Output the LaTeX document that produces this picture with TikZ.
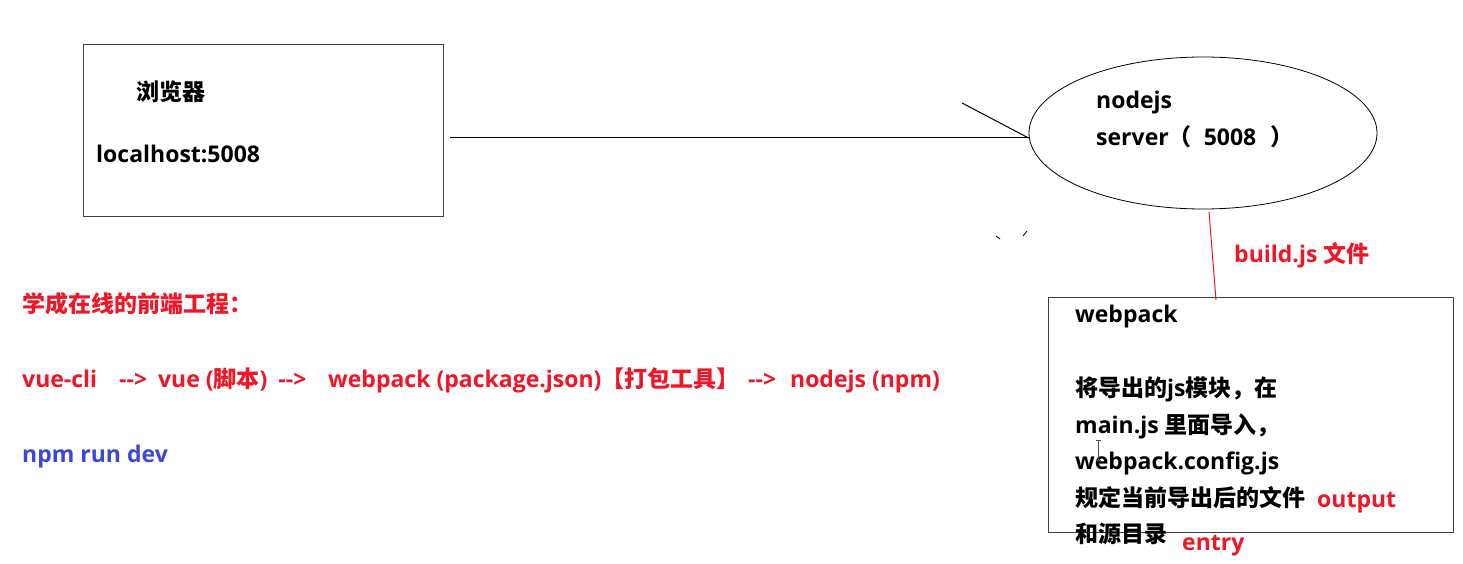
\documentclass[tikz,border=0pt]{standalone}
\usepackage{fontspec}
\usetikzlibrary{shapes.geometric}
\setmainfont{Open Sans}
\newfontfamily\cjk{Noto Sans CJK SC}
\newcommand{\zhs}[1]{{\cjk\bfseries #1}}
\newcommand{\arr}{-{}->}
\definecolor{rd}{RGB}{240,22,40}
\definecolor{bl}{RGB}{58,72,212}
\definecolor{frame}{RGB}{64,64,64}
\tikzset{
  txt/.style={anchor=base west, inner sep=0pt, font=\bfseries\fontsize{23}{26}\selectfont},
  rtxt/.style={txt, text=rd},
  boxline/.style={draw=frame, line width=1.3pt},
  conn/.style={draw=black, line width=1pt},
}
\begin{document}
\begin{tikzpicture}[x=1pt,y=-1pt]
\useasboundingbox (0,0) rectangle (1463,564);
% browser box
\node[boxline, minimum width=360pt, minimum height=172pt, anchor=north west, inner sep=0pt] (browser) at (83,44) {};
\node[txt] (bt1) at (136,101) {\zhs{浏览器}};
\node[txt] (bt2) at (96,163) {localhost:5008};
% server ellipse
\node[draw=black, line width=0.8pt, ellipse, minimum width=348pt, minimum height=152pt, inner sep=0pt] (server) at (1203,133) {};
\node[txt] (st1) at (1096,109) {nodejs};
\node[txt] (st2) at (1096,146) {server\zhs{（}\hspace{12pt}5008\hspace{14pt}\zhs{）}};
% connector browser -- server
\coordinate (cstart) at (450,138);
\coordinate (tick) at (962,103);
\coordinate (cend) at (server.west |- cstart);
\draw[conn] (cstart) -- (cend);
\draw[conn] (tick) -- (cend);
% stray marks
\coordinate (m1a) at (996,236); \coordinate (m1b) at (1000,239);
\coordinate (m2a) at (1023,236); \coordinate (m2b) at (1027,231);
\draw[black, line width=0.8pt] (m1a) -- (m1b);
\draw[black, line width=0.8pt] (m2a) -- (m2b);
% webpack box
\node[boxline, minimum width=405pt, minimum height=235pt, anchor=north west, inner sep=0pt] (webpack) at (1048,297) {};
\coordinate (rtop) at (1209,212);
\coordinate (rbot) at (1216,300);
\draw[rd, line width=1pt] (rtop) -- (rbot);
\node[rtxt] (buildjs) at (1234,262) {build.js \zhs{文件}};
\node[txt] (w1) at (1075,322) {webpack};
\node[txt] (w2) at (1075,396) {\zhs{将导出的}js\zhs{模块，在}};
\node[txt] (w3) at (1075,433) {main.js \zhs{里面导入，}};
\node[txt] (w4) at (1075,469) {webpack.config.js};
\node[txt] (w5) at (1075,506) {\zhs{规定当前导出后的文件}};
\node[rtxt] (w5b) at (1317,507) {output};
\node[txt] (w6) at (1075,542) {\zhs{和源目录}};
\node[rtxt] (w6b) at (1182,550) {entry};
% cursor
\draw[black!70, line width=0.8pt] (1096,440) -- (1101,440) (1098.5,440) -- (1098.5,460) (1096,460) -- (1101,460);
% left texts
\node[rtxt] (l1) at (22,312) {\zhs{学成在线的前端工程：}};
\node[rtxt] (l2a) at (22,387) {vue-cli};
\node[rtxt] (l2b) at (119,387) {\arr\hspace{11pt}vue (\zhs{脚本})\hspace{11pt}\arr};
\node[rtxt] (l2c) at (328,387) {webpack (package.json)\zhs{【打包工具】}};
\node[rtxt] (l2d) at (748,387) {\arr\hspace{14pt}nodejs (npm)};
\node[txt, text=bl] (l3) at (22,462) {npm run dev};
\end{tikzpicture}
\end{document}
